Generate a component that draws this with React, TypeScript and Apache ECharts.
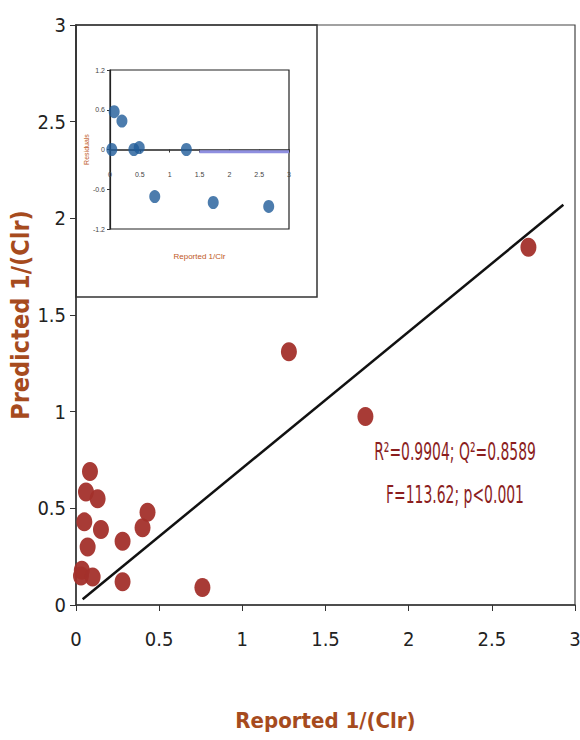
import React, { useEffect, useRef } from "react";
import * as echarts from "echarts";

const reportedX: number[] = [0.084, 0.06, 0.13, 0.05, 0.15, 0.07, 0.035, 0.03, 0.1, 0.28, 0.28, 0.4, 0.43, 0.76, 1.28, 1.74, 2.72];
const predictedY: number[] = [0.69, 0.585, 0.55, 0.43, 0.39, 0.3, 0.18, 0.15, 0.145, 0.33, 0.12, 0.4, 0.48, 0.09, 1.31, 0.975, 1.85];
const fitLineX: number[] = [0.04, 2.93];
const fitLineY: number[] = [0.03, 2.07];
const residualX: number[] = [0.03, 0.07, 0.2, 0.4, 0.49, 0.75, 1.28, 1.73, 2.66];
const residualY: number[] = [0, 0.57, 0.43, 0, 0.03, -0.71, 0, -0.8, -0.86];
const statsLines: string[] = ["R²=0.9904; Q²=0.8589", "F=113.62; p<0.001"];

const NARROW = "'Liberation Sans Narrow', 'DejaVu Sans Condensed', 'Liberation Sans', sans-serif";
const NAME_COLOR = "#A64B1E";

export default function App() {
  const ref = useRef<HTMLDivElement>(null);
  useEffect(() => {
    if (!ref.current) return;
    const chart = echarts.init(ref.current, null, { renderer: "svg" });
    const mainPts = reportedX.map((x, i) => [x, predictedY[i]]);
    const fitPts = fitLineX.map((x, i) => [x, fitLineY[i]]);
    const resPts = residualX.map((x, i) => [x, residualY[i]]);
    chart.setOption({
      animation: false,
      backgroundColor: "#fff",
      grid: [
        { left: 76, top: 25, width: 499, height: 580, show: true, borderColor: "#444", borderWidth: 1.2, backgroundColor: "transparent", outerBoundsMode: "none", containLabel: false },
        { left: 110, top: 70, width: 179, height: 159, show: true, borderColor: "#222", borderWidth: 1.2, outerBoundsMode: "none", containLabel: false },
      ],
      xAxis: [
        {
          gridIndex: 0, type: "value", min: 0, max: 3, interval: 0.5,
          axisLine: { show: true, lineStyle: { color: "#333", width: 1.5 } },
          axisTick: { show: true, length: 6, lineStyle: { color: "#333" } },
          splitLine: { show: false },
          axisLabel: { fontFamily: NARROW, fontSize: 20, color: "#222", margin: 24 },
          name: "Reported 1/(Clr)", nameLocation: "middle", nameGap: 104, nameMoveOverlap: false,
          nameTextStyle: { fontFamily: NARROW, fontSize: 22, fontWeight: "bold", color: NAME_COLOR },
        },
        {
          gridIndex: 1, type: "value", min: 0, max: 3, interval: 0.5, offset: -79.5,
          axisLine: { show: true, onZero: false, lineStyle: { color: "#222", width: 1.5 } },
          axisTick: { show: true, length: 3, lineStyle: { color: "#333" } },
          splitLine: { show: false },
          axisLabel: { fontSize: 7, color: "#444", margin: 21 },
          name: "Reported 1/Clr", nameLocation: "middle", nameGap: 103, nameMoveOverlap: false,
          nameTextStyle: { fontSize: 8, color: "#C0581E" },
        },
      ],
      yAxis: [
        {
          gridIndex: 0, type: "value", min: 0, max: 3, interval: 0.5,
          axisLine: { show: true, lineStyle: { color: "#333", width: 1.5 } },
          axisTick: { show: true, length: 6, lineStyle: { color: "#333" } },
          splitLine: { show: false },
          axisLabel: { fontFamily: NARROW, fontSize: 20, color: "#222", margin: 10 },
          name: "Predicted 1/(Clr)", nameLocation: "middle", nameGap: 43, nameRotate: 90, nameMoveOverlap: false,
          nameTextStyle: { fontFamily: NARROW, fontSize: 25, fontWeight: "bold", color: NAME_COLOR },
        },
        {
          gridIndex: 1, type: "value", min: -1.2, max: 1.2, interval: 0.6,
          axisLine: { show: true, lineStyle: { color: "#222", width: 1.2 } },
          axisTick: { show: true, length: 3, lineStyle: { color: "#333" } },
          splitLine: { show: false },
          axisLabel: { fontSize: 7, color: "#444", margin: 5 },
          name: "Residuals", nameLocation: "middle", nameGap: 20, nameRotate: 90, nameMoveOverlap: false,
          nameTextStyle: { fontSize: 7, color: "#C0581E" },
        },
      ],
      series: [
        {
          type: "line", xAxisIndex: 0, yAxisIndex: 0, data: fitPts, showSymbol: false,
          lineStyle: { color: "#111", width: 2.5 }, z: 3,
        },
        {
          type: "scatter", xAxisIndex: 0, yAxisIndex: 0, data: mainPts, symbol: "circle",
          symbolSize: [16, 19], itemStyle: { color: "#A3302B", opacity: 0.95 }, z: 2,
        },
        {
          type: "line", xAxisIndex: 1, yAxisIndex: 1, data: [[1.5, -0.035], [3, -0.035]], showSymbol: false,
          lineStyle: { color: "#8F8FE0", width: 3 }, z: 1,
        },
        {
          type: "scatter", xAxisIndex: 1, yAxisIndex: 1, data: resPts, symbol: "circle",
          symbolSize: [11, 13], itemStyle: { color: "#1F5B98" }, z: 4,
        },
      ],
      graphic: [
        {
          type: "rect", shape: { x: 76, y: 25, width: 241, height: 272 },
          style: { fill: "none", stroke: "#333", lineWidth: 1.5 }, z: 5, silent: true,
        },
        {
          type: "text", x: 455, y: 452, scaleX: 0.62,
          style: { text: statsLines[0], fontFamily: NARROW, fontSize: 25, fill: "#8B1E1E", align: "center", verticalAlign: "middle" },
        },
        {
          type: "text", x: 455, y: 495, scaleX: 0.62,
          style: { text: statsLines[1], fontFamily: NARROW, fontSize: 25, fill: "#8B1E1E", align: "center", verticalAlign: "middle" },
        },
      ],
    });
    return () => chart.dispose();
  }, []);
  return <div ref={ref} style={{ position: "fixed", left: 0, top: 0, width: 580, height: 740 }} />;
}
